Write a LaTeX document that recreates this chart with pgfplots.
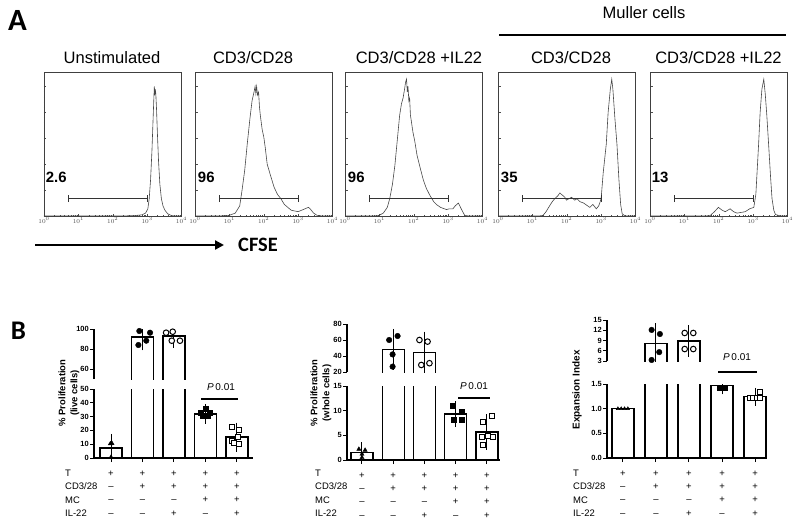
\documentclass[border=0pt]{standalone}
\usepackage{pgfplots}
\pgfplotsset{compat=1.18}
\usepackage{fontspec}
\setmainfont{Liberation Sans}
\newfontfamily\carlito{Carlito}
\usetikzlibrary{arrows.meta}
\tikzset{glab/.style={anchor=base west, inner sep=0pt, font=\bfseries\fontsize{15}{15}\selectfont},
 ttl/.style={anchor=base, inner sep=0pt, font=\fontsize{16.6}{18}\selectfont},
 rowlab/.style={anchor=north west, inner sep=0pt, align=left, font=\fontsize{9.5}{13.4}\selectfont}}
\pgfplotsset{
 histax/.style={scale only axis, anchor=south west, width=137.5bp, height=144bp,
  xmin=1, xmax=10000, ymin=0, ymax=1,
  xtick={1,10,100,1000,10000},
  ytick={0.18,0.36,0.54,0.72,0.9}, yticklabels={}, minor y tick num=4,
  tick align=inside, major tick length=2.5bp, minor tick length=1.3bp,
  xtick pos=bottom, ytick pos=left,
  axis line style={black!75, line width=0.6bp},
  tick style={black!70, line width=0.4bp},
  xticklabel style={font=\fontsize{6}{6}\selectfont, text=black!70, inner sep=1.5bp}},
 hcurve/.style={black!72, line width=0.6bp, mark=none},
 hgate/.style={black!80, line width=0.8bp, mark=none},
 bcommon/.style={scale only axis, anchor=south west,
  axis line style={line width=1.1bp,-}, tick align=outside, major tick length=4bp,
  tick style={line width=1bp, black},
  yticklabel style={font=\bfseries\fontsize{7.5}{8}\selectfont, inner sep=1bp},
  /pgf/number format/assume math mode=true},
 blow/.style={bcommon, axis x line*=bottom, axis y line*=left, xtick={0,...,4},
  xticklabels={{\strut+\\–\\–\\–},{\strut+\\+\\–\\–},{\strut+\\+\\–\\+},{\strut+\\+\\+\\–},{\strut+\\+\\+\\+}},
  xticklabel style={align=center, font=\fontsize{9.5}{13.4}\selectfont, inner sep=0pt, anchor=north, yshift=-4.5bp}},
 bup/.style={bcommon, axis x line=none, axis y line*=left},
 barsty/.style={ybar, bar shift=0pt, bar width=22bp, fill=white, draw=black, line width=1.3bp},
 openbar/.style={black, line width=1.3bp, mark=none},
 errsty/.style={draw=none, mark=none, error bars/.cd, y dir=both, y explicit,
  error bar style={draw=black, line width=1bp}, error mark options={draw=black, line width=1bp, mark size=6.5bp}},
 fci/.style={only marks, mark=*, mark size=2.8bp, black},
 oci/.style={only marks, mark=*, mark size=2.8bp, mark options={fill=white, draw=black, line width=1bp}},
 fsq/.style={only marks, mark=square*, mark size=2.5bp, black},
 osq/.style={only marks, mark=square*, mark size=2.5bp, mark options={fill=white, draw=black, line width=1bp}},
 tri/.style={only marks, mark=triangle*, mark size=2.4bp, black},
}
\begin{document}
\begin{tikzpicture}
\useasboundingbox (0,0) rectangle (800bp,-529bp);
% ---------------- Panel A ----------------
\node[anchor=base, inner sep=0pt, font=\carlito\bfseries\fontsize{31}{31}\selectfont] at (17.5bp,-30bp) {A};
\node[anchor=base, inner sep=0pt, font=\fontsize{16.6}{18}\selectfont] at (644bp,-18.5bp) {Muller cells};
\draw[line width=1.5bp] (499bp,-35bp) -- (786bp,-35bp);
\begin{axis}[xmode=log, histax, at={(44bp,-216bp)}]
\addplot[hcurve] coordinates {(1,0)(100,0)(400,0.002)(700,0.008)(900,0.02)(1050,0.05)(1150,0.12)(1259,0.25)(1380,0.45)(1480,0.65)(1560,0.8)(1620,0.9)(1680,0.84)(1730,0.88)(1790,0.85)(1880,0.74)(1995,0.57)(2150,0.38)(2350,0.22)(2600,0.12)(2900,0.07)(3300,0.04)(3981,0.015)(5012,0.004)(6310,0)(10000,0)};
\addplot[hgate] coordinates {(5,0.12)(1000,0.12)};
\addplot[hgate] coordinates {(5,0.097)(5,0.143)};
\addplot[hgate] coordinates {(1000,0.097)(1000,0.143)};
\node[glab] at (rel axis cs:0.012,0.235) {2.6};
\end{axis}
\begin{axis}[xmode=log, histax, at={(195bp,-216bp)}]
\addplot[hcurve] coordinates {(1,0)(5,0)(10,0.005)(14.8,0.02)(20,0.07)(23.4,0.18)(28,0.32)(33.1,0.5)(39.8,0.68)(45.7,0.8)(52,0.86)(56,0.9)(59,0.85)(62,0.9)(66,0.84)(70.8,0.86)(75,0.76)(79.4,0.7)(90,0.6)(100,0.55)(110,0.48)(126,0.36)(158,0.28)(200,0.2)(251,0.15)(316,0.12)(398,0.08)(501,0.06)(631,0.04)(794,0.035)(1000,0.03)(1259,0.04)(1585,0.05)(1995,0.06)(2239,0.05)(2818,0.02)(3548,0.005)(5012,0)(10000,0)};
\addplot[hgate] coordinates {(5,0.12)(1000,0.12)};
\addplot[hgate] coordinates {(5,0.097)(5,0.143)};
\addplot[hgate] coordinates {(1000,0.097)(1000,0.143)};
\node[glab] at (rel axis cs:0.02,0.235) {96};
\end{axis}
\begin{axis}[xmode=log, histax, at={(345bp,-216bp)}]
\addplot[hcurve] coordinates {(1,0)(5,0)(9.3,0.002)(13,0.02)(17,0.06)(20,0.12)(24,0.22)(28.2,0.35)(33,0.52)(38.9,0.70)(44,0.78)(49,0.82)(54,0.88)(58,0.93)(61.7,0.95)(65,0.86)(68,0.9)(72,0.8)(75.9,0.82)(80,0.7)(85,0.66)(95,0.58)(107,0.52)(125,0.42)(148,0.35)(190,0.25)(234,0.19)(300,0.14)(380,0.1)(457,0.08)(600,0.06)(891,0.045)(1100,0.05)(1380,0.05)(1600,0.07)(1995,0.09)(2400,0.05)(3020,0.005)(4000,0)(10000,0)};
\addplot[hgate] coordinates {(5,0.12)(1000,0.12)};
\addplot[hgate] coordinates {(5,0.097)(5,0.143)};
\addplot[hgate] coordinates {(1000,0.097)(1000,0.143)};
\node[glab] at (rel axis cs:0.02,0.235) {96};
\end{axis}
\begin{axis}[xmode=log, histax, at={(498bp,-216bp)}]
\addplot[hcurve] coordinates {(1,0)(15,0)(20.4,0.004)(25,0.03)(31.6,0.07)(38,0.1)(44.7,0.12)(55,0.14)(63,0.16)(70,0.15)(79,0.14)(88,0.13)(98,0.11)(115,0.12)(138,0.13)(170,0.11)(200,0.12)(240,0.10)(309,0.09)(380,0.075)(468,0.06)(575,0.08)(724,0.05)(850,0.07)(912,0.09)(1000,0.12)(1150,0.3)(1413,0.5)(1600,0.72)(1850,0.88)(2040,0.95)(2200,0.88)(2512,0.68)(2884,0.5)(3300,0.25)(3700,0.08)(4100,0.015)(5012,0)(10000,0)};
\addplot[hgate] coordinates {(5,0.12)(1000,0.12)};
\addplot[hgate] coordinates {(5,0.097)(5,0.143)};
\addplot[hgate] coordinates {(1000,0.097)(1000,0.143)};
\node[glab] at (rel axis cs:0.02,0.235) {35};
\end{axis}
\begin{axis}[xmode=log, histax, at={(650bp,-216bp)}]
\addplot[hcurve] coordinates {(1,0)(40,0)(56.2,0.003)(75,0.03)(97.7,0.06)(126,0.04)(155,0.03)(214,0.05)(270,0.03)(339,0.02)(450,0.025)(589,0.03)(794,0.05)(1047,0.06)(1200,0.15)(1300,0.3)(1445,0.5)(1600,0.72)(1800,0.88)(2042,0.95)(2250,0.85)(2500,0.7)(2818,0.5)(3200,0.28)(3548,0.12)(4000,0.04)(4467,0.01)(6310,0)(10000,0)};
\addplot[hgate] coordinates {(5,0.12)(1000,0.12)};
\addplot[hgate] coordinates {(5,0.097)(5,0.143)};
\addplot[hgate] coordinates {(1000,0.097)(1000,0.143)};
\node[glab] at (rel axis cs:0.012,0.235) {13};
\end{axis}
\node[ttl] at (112bp,-63bp) {Unstimulated};
\node[ttl] at (253bp,-63bp) {CD3/CD28};
\node[ttl] at (419bp,-63bp) {CD3/CD28 +IL22};
\node[ttl] at (571bp,-63bp) {CD3/CD28};
\node[ttl] at (718.5bp,-63bp) {CD3/CD28 +IL22};
\draw[line width=2.2bp, -{Triangle[length=9bp,width=9bp]}] (35bp,-245bp) -- (224bp,-245bp);
\node[font=\carlito\bfseries\fontsize{20.5}{21}\selectfont, inner sep=0pt] at (258bp,-245bp) {CFSE};
% ---------------- Panel B ----------------
\node[anchor=base, inner sep=0pt, font=\carlito\bfseries\fontsize{27}{27}\selectfont] at (18.5bp,-339bp) {B};
% chart 1
\begin{axis}[blow, at={(94bp,-458bp)}, width=159bp, height=69bp, xmin=-0.54, xmax=4.51, ymin=0, ymax=50, ytick={0,10,...,50}]
\addplot[barsty] coordinates {(0,7.2)(1,92)(2,93)(3,31.9)(4,15.2)};
\addplot[errsty] coordinates {(0,7.2) +- (0,5.5) (3,31.9) +- (0,2.3) (4,15.2) +- (0,5.8)};
\addplot[tri] coordinates {(0,0.6)(-0.02,10.4)(0.03,10.6)};
\addplot[fsq] coordinates {(3,36)(2.85,32.5)(3.15,32.5)(2.92,30.5)(3.08,30.5)};
\addplot[osq] coordinates {(3.85,22.5)(4.07,20.3)(4.02,15.2)(3.85,12.3)(4.07,10.5)(3.92,11)};
\end{axis}
\begin{axis}[bup, at={(94bp,-379bp)}, width=159bp, height=50bp, xmin=-0.54, xmax=4.51, ymin=50, ymax=100, ytick={60,80,100}]
\addplot[openbar] coordinates {(0.651,40)(0.651,92)(1.349,92)(1.349,40)};
\addplot[openbar] coordinates {(1.651,40)(1.651,93)(2.349,93)(2.349,40)};
\addplot[errsty] coordinates {(1,91.7) +- (0,6.6) (2,92.5) +- (0,4.8)};
\addplot[fci] coordinates {(0.9,98)(1.24,96.3)(1.12,88.3)(0.87,84)};
\addplot[oci] coordinates {(1.75,96.3)(1.96,97.3)(1.93,88.3)(2.19,88.3)};
\end{axis}
\node[rowlab] at (65bp,-467bp) {\strut T\\CD3/28\\MC\\IL-22};
\node[rotate=90, align=center, font=\bfseries\fontsize{9.5}{12}\selectfont] at (69bp,-393bp) {\% Proliferation\\(live cells)};
\draw[line width=1.8bp] (201bp,-399bp) -- (238bp,-399bp);
\node[font=\fontsize{10}{12}\selectfont] at (221bp,-387bp) {\textit{P}\,0.01};
% chart 2
\begin{axis}[blow, at={(347bp,-460bp)}, width=153bp, height=74bp, xmin=-0.48, xmax=4.42, ymin=0, ymax=15, ytick={0,5,10,15}]
\addplot[barsty] coordinates {(0,1.5)(1,48.4)(2,44.4)(3,9.3)(4,5.67)};
\addplot[errsty] coordinates {(0,1.5) +- (0,0.8) (3,9.3) +- (0,1.3) (4,5.67) +- (0,2.3)};
\addplot[tri] coordinates {(-0.1,2.2)(0.1,2.0)(0,1.2)(0,0.5)};
\addplot[fsq] coordinates {(2.92,11.1)(3.2,9.8)(2.95,8.1)(3.2,8.1)};
\addplot[osq] coordinates {(4.15,8.9)(3.88,7.8)(3.83,4.7)(4.04,4.9)(4.2,4.7)(3.88,3.0)};
\end{axis}
\begin{axis}[bup, at={(347bp,-372bp)}, width=153bp, height=48bp, xmin=-0.48, xmax=4.42, ymin=20, ymax=80, ytick={20,40,60,80}]
\addplot[openbar] coordinates {(0.648,10)(0.648,48.4)(1.352,48.4)(1.352,10)};
\addplot[openbar] coordinates {(1.648,10)(1.648,44.4)(2.352,44.4)(2.352,10)};
\addplot[errsty] coordinates {(1,48.4) +- (0,17.5) (2,44.4) +- (0,18)};
\addplot[fci] coordinates {(0.87,60)(1.14,65)(0.98,42)(0.98,26.7)};
\addplot[oci] coordinates {(1.84,60)(2.1,58)(1.9,28.8)(2.16,31)};
\end{axis}
\node[rowlab] at (315bp,-467bp) {\strut T\\CD3/28\\MC\\IL-22};
\node[rotate=90, align=center, font=\bfseries\fontsize{9.5}{12}\selectfont] at (321bp,-393bp) {\% Proliferation\\(whole cells)};
\draw[line width=1.8bp] (458bp,-398bp) -- (490bp,-398bp);
\node[font=\fontsize{10}{12}\selectfont] at (474bp,-386bp) {\textit{P}\,0.01};
% chart 3
\begin{axis}[blow, at={(607bp,-458bp)}, width=160bp, height=74bp, xmin=-0.48, xmax=4.36, ymin=0, ymax=1.5, ytick={0,0.5,1,1.5}, yticklabels={0.0,0.5,1.0,1.5}]
\addplot[barsty] coordinates {(0,1.0)(1,8.2)(2,8.85)(3,1.47)(4,1.24)};
\addplot[errsty] coordinates {(3,1.47) +- (0,0.05) (4,1.24) +- (0,0.05)};
\addplot[tri, mark size=2bp] coordinates {(-0.15,1)(-0.05,1)(0.05,1)(0.15,1)};
\addplot[fsq] coordinates {(2.8,1.53)(3.2,1.53)(2.92,1.43)(3.0,1.43)(3.08,1.43)};
\addplot[osq] coordinates {(3.85,1.22)(3.95,1.22)(4.05,1.22)(4.15,1.22)(4.15,1.33)};
\end{axis}
\begin{axis}[bup, at={(607bp,-361bp)}, width=160bp, height=41bp, xmin=-0.48, xmax=4.36, ymin=3, ymax=15, ytick={3,6,9,12,15}]
\addplot[openbar] coordinates {(0.667,1)(0.667,8.2)(1.333,8.2)(1.333,1)};
\addplot[openbar] coordinates {(1.667,1)(1.667,8.85)(2.333,8.85)(2.333,1)};
\addplot[errsty] coordinates {(1,8.0) +- (0,4.2) (2,8.85) +- (0,2.7)};
\addplot[fci] coordinates {(0.87,12.1)(1.12,10.9)(1.1,5.6)(0.87,3.3)};
\addplot[oci] coordinates {(1.87,11.2)(2.13,11.2)(1.87,6.5)(2.13,6.5)};
\end{axis}
\node[rowlab] at (573bp,-467bp) {\strut T\\CD3/28\\MC\\IL-22};
\node[rotate=90, font=\bfseries\fontsize{10}{12}\selectfont] at (577bp,-390bp) {Expansion Index};
\draw[line width=1.8bp] (718bp,-372bp) -- (757bp,-372bp);
\node[font=\fontsize{10}{12}\selectfont] at (737bp,-357bp) {\textit{P}\,0.01};
\end{tikzpicture}
\end{document}
